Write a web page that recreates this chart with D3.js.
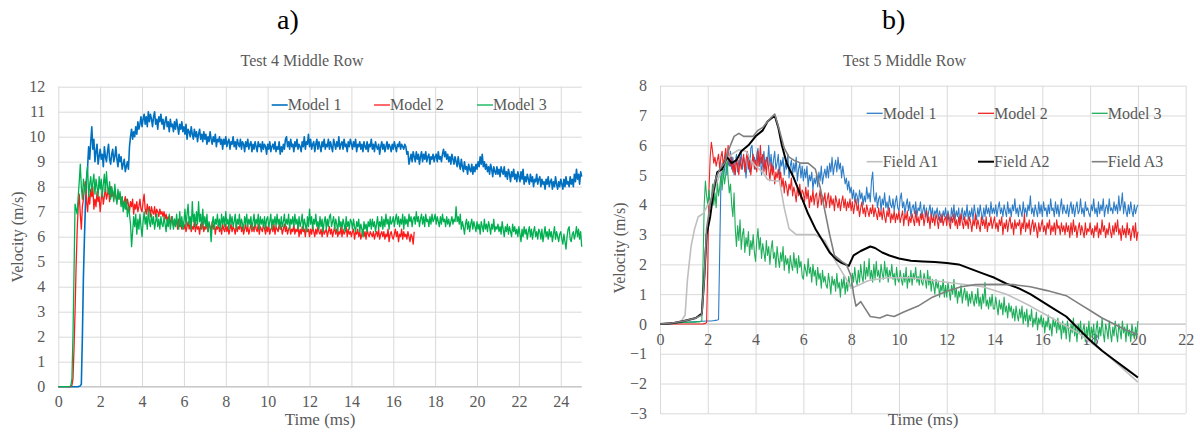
<!DOCTYPE html>
<html>
<head>
<meta charset="utf-8">
<script src="https://cdn.jsdelivr.net/npm/d3@7"></script>
<style>
  body { margin: 0; background: #fff; }
  svg { display: block; }
</style>
</head>
<body>
<svg id="chart" width="1200" height="434"></svg>
<script>
// model traces are sampled every 0.05 ms, one row per millisecond
const step = 0.05;

// ---- Test 4 (left) ----
const t4Model1 = [
  0,0,0,0,0,0,0,0,0,0,0,0,0,0,0,0,0,0,0,0,
  0.02,0.03,0.1,2.0,4.4,6.0,7.4,8.3,8.8,9.6,9.1,9.8,10.4,9.5,9.9,9.0,9.4,9.7,8.9,9.2,
  9.5,9.1,9.3,8.8,9.6,9.2,9.0,9.4,9.7,9.1,8.9,9.3,9.5,9.0,9.2,9.6,9.1,8.8,9.3,9.0,
  9.2,8.7,8.9,9.1,8.6,8.8,9.0,8.7,9.6,10.0,10.3,9.9,10.2,10.0,10.4,10.1,10.6,10.3,10.5,10.8,
  10.4,10.7,10.9,10.5,10.8,10.4,11.0,10.6,10.9,10.7,10.4,10.8,11.0,10.5,10.7,10.3,10.8,10.6,10.9,10.5,
  10.7,10.3,10.6,10.8,10.4,10.6,10.2,10.7,10.4,10.5,10.2,10.6,10.3,10.7,10.4,10.1,10.5,10.3,10.6,10.2,
  10.4,10.1,10.5,9.9,10.3,10.2,10.0,10.4,10.1,9.9,10.3,10.0,10.2,9.8,10.1,10.3,9.9,10.1,9.8,10.2,
  9.9,10.1,9.7,10.0,9.8,10.2,9.9,9.7,10.0,9.8,10.1,9.6,9.9,9.8,10.0,9.7,9.9,9.5,9.9,9.7,
  10.0,9.6,9.8,9.9,9.5,9.8,9.7,10.0,9.6,9.8,9.5,9.9,9.7,9.6,9.9,9.5,9.8,9.7,9.4,9.8,
  9.6,9.9,9.5,9.7,9.8,9.4,9.7,9.5,9.8,9.6,9.4,9.8,9.6,9.7,9.4,9.8,9.5,9.7,9.6,9.3,
  9.7,9.5,9.8,9.4,9.6,9.7,9.5,9.8,9.4,9.6,9.5,9.8,9.3,9.6,9.4,9.7,9.5,9.9,10.0,9.6,
  9.8,9.5,9.9,9.6,9.7,9.4,9.8,9.6,9.9,9.5,9.7,9.6,9.4,9.8,9.6,10.0,9.5,9.8,9.7,10.1,
  9.6,9.9,9.5,9.7,9.8,9.4,9.7,9.9,9.5,9.8,9.6,9.4,9.8,9.6,9.9,9.5,9.7,9.6,9.9,9.5,
  9.8,9.6,9.4,9.9,9.7,9.5,9.8,9.6,10.0,9.5,9.7,9.8,9.5,9.9,9.6,9.7,9.4,9.8,9.6,9.9,
  9.7,9.5,9.8,9.6,9.9,9.4,9.7,9.6,9.8,9.5,9.7,9.4,9.8,9.6,9.5,9.8,9.4,9.7,9.6,9.9,
  9.5,9.7,9.4,9.8,9.6,9.5,9.7,9.3,9.6,9.8,9.5,9.7,9.4,9.6,9.8,9.5,9.7,9.6,9.4,9.7,
  9.5,9.8,9.6,9.4,9.7,9.6,9.8,9.5,9.7,9.6,9.5,9.7,9.6,9.3,9.4,8.9,9.1,9.3,9.0,9.4,
  9.2,9.0,9.4,9.1,9.3,8.9,9.2,9.4,9.0,9.3,9.1,9.4,9.0,9.2,9.3,8.9,9.2,9.1,9.3,9.0,
  9.2,9.3,9.0,9.4,9.1,9.2,9.0,9.3,9.5,9.2,9.4,9.1,9.3,9.0,9.2,8.9,9.3,9.1,8.9,9.2,
  9.0,8.8,9.2,8.9,8.7,9.1,8.8,8.6,9.0,8.7,8.8,8.5,8.9,8.7,8.6,8.9,8.5,8.8,8.6,8.9,
  8.7,9.0,8.8,9.2,8.9,9.3,8.8,9.0,8.7,8.9,8.6,8.8,8.5,8.9,8.7,8.4,8.8,8.6,8.5,8.8,
  8.5,8.7,8.4,8.8,8.6,8.5,8.8,8.4,8.6,8.3,8.7,8.5,8.2,8.6,8.4,8.7,8.3,8.5,8.2,8.6,
  8.4,8.2,8.6,8.3,8.7,8.1,8.4,8.2,8.5,8.3,8.1,8.5,8.2,8.4,8.0,8.3,8.2,8.5,8.1,8.3,
  8.4,8.0,8.3,8.1,8.2,7.9,8.3,8.1,8.4,8.0,8.2,8.3,7.9,8.2,8.0,8.4,8.1,7.9,8.2,8.0,
  8.3,8.1,7.9,8.3,8.0,8.4,8.1,8.2,8.0,8.4,8.1,8.3,8.0,8.5,8.2,8.7,8.3,8.5,8.1,8.6,
  8.4
];

const t4Model2 = [
  0,0,0,0,0,0,0,0,0,0,0,0,0,0.05,0.3,1.5,3.0,4.8,6.2,7.2,
  7.7,6.9,6.3,7.2,7.5,8.0,8.2,7.4,7.0,7.7,7.3,7.9,7.6,8.0,7.1,7.5,7.2,7.8,7.4,7.6,
  7.0,7.5,7.8,7.3,7.6,8.0,7.5,7.7,7.9,7.4,8.0,7.6,7.8,7.5,7.9,7.6,7.4,7.8,7.5,7.7,
  7.3,7.6,7.2,7.4,7.6,7.1,7.5,7.3,7.0,7.4,7.2,7.5,6.9,7.3,7.1,7.4,7.0,7.2,7.5,7.1,
  7.0,7.4,7.7,7.1,6.9,7.3,7.0,7.2,6.8,7.2,7.0,6.9,7.2,6.8,7.1,7.0,6.8,7.1,6.9,7.0,
  6.8,7.0,6.7,6.9,6.6,6.8,6.7,6.5,6.8,6.6,6.4,6.7,6.5,6.6,6.3,6.7,6.4,6.5,6.3,6.6,
  6.3,6.5,6.2,6.4,6.6,6.3,6.5,6.2,6.4,6.3,6.6,6.2,6.5,6.3,6.4,6.1,6.5,6.3,6.6,6.2,
  6.4,6.3,6.6,6.2,6.5,6.4,6.2,6.6,6.3,6.5,6.1,6.4,6.3,6.5,6.2,6.4,6.1,6.5,6.3,6.2,
  6.5,6.2,6.4,6.1,6.3,6.5,6.2,6.4,6.3,6.1,6.5,6.2,6.4,6.3,6.6,6.2,6.4,6.1,6.3,6.5,
  6.2,6.4,6.1,6.3,6.5,6.2,6.4,6.2,6.6,6.3,6.2,6.5,6.1,6.4,6.3,6.2,6.5,6.3,6.1,6.4,
  6.2,6.5,6.1,6.3,6.4,6.2,6.5,6.1,6.4,6.3,6.2,6.5,6.3,6.4,6.1,6.3,6.5,6.2,6.4,6.1,
  6.3,6.4,6.1,6.3,6.2,6.5,6.1,6.3,6.2,6.4,6.0,6.3,6.1,6.4,6.2,6.3,6.0,6.4,6.2,6.3,
  6.0,6.3,6.1,6.4,6.2,6.0,6.3,6.1,6.4,6.2,6.1,6.3,6.0,6.4,6.1,6.2,6.3,6.0,6.2,6.4,
  6.1,6.3,6.0,6.2,6.4,6.1,6.3,6.0,6.2,6.1,6.4,6.0,6.3,6.1,6.2,6.4,6.0,6.3,6.1,6.2,
  6.0,6.2,6.3,5.9,6.2,6.1,6.3,6.0,6.2,5.9,6.1,6.3,6.0,6.2,5.9,6.3,6.1,6.0,6.2,6.1,
  6.0,6.2,5.9,6.1,6.2,6.0,6.3,5.9,6.1,6.2,6.0,6.2,5.9,6.1,6.0,6.3,5.8,6.1,6.2,6.0,
  5.9,6.1,6.3,6.0,6.2,5.8,6.1,6.0,6.3,5.9,6.2,6.0,6.1,5.9,6.2,6.0,5.8,6.1,6.0,5.7,
  6.2
];

const t4Model3 = [
  0,0,0,0,0,0,0,0,0,0,0,0,0.05,0.3,2.0,4.5,7.3,7.1,6.9,7.6,
  8.2,8.9,8.0,7.5,8.3,8.0,7.7,8.4,8.8,7.6,8.1,8.4,7.8,8.2,8.5,7.7,8.3,8.0,7.6,8.4,
  7.9,8.3,7.6,8.1,8.5,7.8,8.6,8.0,7.7,8.2,7.5,8.0,7.8,7.4,8.1,7.6,7.3,7.9,7.5,7.8,
  7.2,7.6,7.0,7.4,7.1,7.5,6.8,7.2,6.9,6.5,5.6,6.2,6.8,6.4,6.9,6.1,6.7,6.3,6.9,6.4,
  6.0,6.6,7.0,6.5,6.8,6.3,7.1,6.6,6.4,6.9,6.5,6.8,6.3,6.6,6.9,6.4,6.7,6.3,6.8,6.5,
  6.4,6.8,6.5,6.2,6.7,6.4,6.9,6.3,6.6,6.8,6.3,6.7,6.4,6.9,6.5,6.3,7.0,6.4,6.8,6.3,
  6.6,7.1,6.4,6.9,7.3,6.5,6.8,6.3,7.4,6.6,6.9,6.4,7.0,6.5,7.4,6.6,6.9,6.3,7.1,6.5,
  6.8,6.4,6.9,6.2,6.6,6.4,5.8,6.5,6.8,6.3,6.7,6.5,6.9,6.4,6.7,6.3,6.9,6.5,6.8,6.4,
  7.0,6.5,6.7,6.3,6.9,6.5,6.8,6.4,6.6,6.9,6.3,6.7,6.5,6.9,6.4,6.7,6.5,6.3,6.8,6.5,
  6.9,6.4,6.7,6.5,6.8,6.3,6.6,6.9,6.4,6.7,6.5,6.9,6.3,6.8,6.5,6.7,6.4,6.8,6.3,6.7,
  6.8,6.4,6.6,6.9,6.3,6.7,6.5,6.8,6.4,6.9,6.5,6.7,6.3,6.8,6.4,6.6,6.9,6.4,6.7,6.5,
  6.9,6.3,6.7,6.5,6.8,6.4,6.9,6.5,6.7,6.3,6.8,6.4,6.6,6.9,6.3,6.7,6.5,6.2,6.8,6.4,
  7.1,6.5,6.8,6.3,6.7,6.5,6.9,6.4,6.6,6.3,6.8,6.4,6.7,6.2,6.6,6.8,6.3,6.7,6.4,6.8,
  6.9,6.4,6.6,6.8,6.3,6.7,6.5,6.2,6.8,6.4,6.6,6.3,6.7,6.5,6.2,6.8,6.4,6.6,6.3,6.7,
  6.6,6.3,6.7,6.4,6.2,6.6,6.4,6.7,6.2,6.5,6.3,6.0,6.6,6.3,6.5,6.2,6.6,6.4,6.7,6.3,
  6.7,6.4,6.6,6.2,6.5,6.8,6.3,6.6,6.4,6.8,6.3,6.7,6.4,6.9,6.5,6.7,6.3,6.8,6.5,6.6,
  6.8,6.4,6.7,6.9,6.5,6.8,6.4,6.7,6.5,6.9,6.3,6.8,6.5,6.7,6.4,6.9,6.6,6.8,6.4,6.7,
  6.8,6.5,7.0,6.6,6.8,6.4,6.7,6.9,6.5,6.8,6.4,6.9,6.6,6.7,6.4,6.8,6.5,6.9,6.6,6.7,
  6.9,6.5,6.8,6.6,6.4,6.8,6.5,6.9,6.6,6.7,6.4,6.8,6.5,6.7,6.4,6.6,6.8,6.5,6.7,6.6,
  7.2,6.6,6.8,6.5,6.9,6.3,6.6,6.4,6.1,6.5,6.7,6.3,6.6,6.2,6.5,6.7,6.3,6.6,6.4,6.2,
  6.6,6.3,6.5,6.1,6.6,6.4,6.2,6.7,6.3,6.5,6.2,6.6,6.4,6.1,6.5,6.3,6.7,6.2,6.4,6.3,
  6.5,6.2,6.4,6.1,6.6,6.3,6.0,6.4,6.2,6.5,6.1,6.4,6.2,6.0,6.5,6.2,6.4,6.1,6.3,6.0,
  6.4,6.1,5.8,6.3,6.0,6.4,6.1,6.3,5.9,6.2,6.4,6.0,6.3,5.9,6.2,6.4,6.0,6.2,5.9,6.3,
  6.2,5.9,6.3,5.8,6.1,6.4,6.0,6.2,5.9,6.3,6.0,6.2,5.8,6.1,6.4,5.9,6.2,6.0,5.8,6.1,
  6.2,5.9,5.7,6.1,5.8,5.5,6.0,6.3,6.4,5.9,5.8,6.1,6.2,5.9,6.1,6.4,6.0,6.3,5.9,6.2,
  5.6
];

// ---- Test 5 (right) ----
const t5Model1 = [
  0,0,0,0,0,0,0,0,0.01,0.01,0.02,0.02,0.03,0.03,0.03,0.04,0.04,0.04,0.05,0.05,
  0.05,0.05,0.06,0.06,0.06,0.06,0.07,0.07,0.07,0.07,0.08,0.08,0.08,0.08,0.09,0.09,0.09,0.09,0.1,0.1,
  0.1,0.1,0.1,0.1,0.11,0.11,0.12,0.12,0.13,0.15,2.5,4.8,5.4,4.9,5.2,5.7,5.0,5.5,5.3,5.8,
  5.2,5.6,5.0,5.4,5.7,5.1,5.5,5.3,5.8,5.2,5.6,5.4,4.9,5.5,5.7,5.1,5.9,6.0,5.4,5.6,
  5.2,5.7,5.9,5.3,5.6,5.0,5.5,5.8,5.2,5.6,5.4,6.0,5.3,5.7,5.1,5.5,5.8,5.2,5.4,5.7,
  5.0,5.5,5.3,5.6,5.0,5.4,5.2,5.7,4.9,5.3,5.5,5.0,5.4,5.1,5.6,4.8,5.2,5.4,4.9,5.3,
  4.8,5.2,4.9,5.3,4.6,5.0,4.8,5.1,4.5,4.9,4.7,5.0,4.6,5.1,4.8,5.3,4.7,5.0,5.2,4.9,
  5.3,4.9,5.4,5.1,5.6,5.0,5.3,5.5,5.1,5.6,5.2,5.4,4.9,5.3,5.0,4.7,4.9,4.5,4.8,4.4,
  4.6,4.2,4.5,4.1,4.4,4.3,4.0,4.5,4.2,4.4,4.0,4.3,4.1,4.6,4.2,4.4,4.1,4.8,5.1,4.3,
  4.1,4.4,3.9,4.2,4.3,3.8,4.2,4.0,4.4,3.9,4.1,3.8,4.3,4.0,3.9,4.2,3.8,4.1,4.3,3.9,
  3.8,4.2,4.4,3.9,4.1,3.7,4.0,4.2,3.8,4.1,3.6,3.9,4.0,3.7,4.1,3.6,3.9,3.8,4.1,3.6,
  3.8,4.0,3.6,3.9,3.5,3.8,4.0,3.6,3.9,3.5,3.8,3.7,3.9,3.5,3.8,3.6,3.4,3.8,3.6,3.9,
  3.5,3.8,3.6,3.4,3.9,3.6,4.0,3.5,3.8,3.6,3.9,3.4,3.7,3.9,3.5,3.8,3.6,4.0,3.5,3.8,
  3.6,3.9,3.5,4.0,3.7,3.5,3.9,3.6,4.0,3.7,3.5,3.9,3.6,4.0,3.7,3.9,3.6,4.1,3.7,3.9,
  3.7,4.0,3.6,3.9,4.1,3.7,3.9,3.6,4.0,3.8,3.6,4.1,3.7,3.9,3.6,4.0,3.8,4.2,3.7,3.9,
  3.6,4.0,3.8,3.6,4.1,3.7,3.9,3.6,4.0,3.8,4.3,3.7,3.9,3.6,4.0,3.8,3.6,4.1,3.7,4.0,
  3.6,4.1,3.8,3.9,3.6,4.0,3.7,4.2,3.8,3.9,3.6,4.1,3.7,4.0,3.6,3.9,4.2,3.7,4.0,3.8,
  3.7,4.0,3.6,3.9,4.1,3.7,4.0,3.6,3.9,4.1,3.7,3.8,4.2,3.7,3.9,3.6,4.1,3.8,3.9,3.7,
  3.6,4.0,3.8,4.2,3.7,3.9,3.6,4.1,3.7,4.0,3.8,4.2,3.6,3.9,4.0,3.7,4.2,3.8,3.9,3.7,
  4.1,3.8,4.0,3.7,4.3,3.8,4.0,4.4,3.7,4.1,3.8,3.6,4.0,3.7,4.1,3.8,3.6,4.0,3.7,3.9,
  4.0
];

const t5Model2 = [
  0,0,0,0,0,0,0,0,0,0,0,0,0,0,0,0,0,0,0,0,
  0,0,0,0,0,0,0,0,0,0,0,0,0,0,0,0,0,0.01,0.02,0.05,
  2.0,4.5,5.6,6.1,5.8,5.4,5.6,5.3,5.5,5.7,5.2,5.6,5.8,5.3,5.6,5.9,5.4,6.0,5.5,5.3,
  5.6,5.1,5.4,5.0,5.5,5.3,5.0,5.6,5.2,5.4,5.7,5.1,5.5,5.8,5.2,5.5,5.0,5.4,5.7,5.2,
  5.5,5.1,5.8,5.3,6.0,5.4,5.7,5.1,5.5,5.0,5.6,5.2,4.8,5.4,5.0,5.3,4.7,5.1,4.9,5.2,
  4.8,5.1,4.6,4.9,4.4,4.8,4.6,4.3,4.7,4.5,4.9,4.3,4.6,4.4,4.1,4.6,4.3,4.7,4.2,4.5,
  4.4,4.1,4.6,4.2,4.5,3.9,4.3,4.1,4.5,4.0,4.3,4.4,3.9,4.2,4.5,4.0,4.3,4.1,4.4,3.9,
  4.2,4.4,3.9,4.3,4.0,4.2,3.8,4.3,4.1,3.9,4.2,3.8,4.1,4.3,3.9,4.2,3.8,4.1,3.9,4.2,
  3.8,4.1,3.7,4.0,4.2,3.8,4.0,3.6,3.9,4.1,3.7,3.9,3.6,4.0,3.8,3.6,3.9,3.7,4.0,3.6,
  3.9,3.7,3.5,3.9,3.6,3.8,3.5,3.9,3.6,3.4,3.8,3.6,3.9,3.4,3.7,3.5,3.8,3.4,3.7,3.5,
  3.8,3.4,3.6,3.8,3.3,3.7,3.5,3.8,3.3,3.6,3.4,3.7,3.5,3.3,3.8,3.4,3.6,3.3,3.7,3.5,
  3.7,3.3,3.6,3.8,3.4,3.6,3.2,3.7,3.4,3.6,3.3,3.7,3.5,3.2,3.6,3.4,3.7,3.3,3.5,3.6,
  3.3,3.7,3.4,3.2,3.6,3.4,3.7,3.3,3.5,3.2,3.6,3.3,3.7,3.4,3.2,3.6,3.3,3.5,3.2,3.6,
  3.4,3.1,3.5,3.3,3.7,3.2,3.5,3.3,3.1,3.6,3.3,3.5,3.2,3.6,3.1,3.4,3.3,3.6,3.2,3.4,
  3.6,3.2,3.4,3.1,3.5,3.3,3.6,3.0,3.4,3.2,3.5,3.1,3.4,3.6,3.2,3.4,3.0,3.5,3.2,3.4,
  3.3,3.5,3.0,3.4,3.2,3.7,3.1,3.4,3.2,3.5,3.0,3.3,3.5,3.1,3.4,3.2,2.9,3.4,3.1,3.3,
  3.5,3.1,3.3,3.0,3.4,3.2,3.5,3.0,3.3,3.1,3.4,3.0,3.5,3.2,3.3,3.0,3.4,3.1,3.3,3.0,
  3.4,3.1,3.3,2.9,3.4,3.0,3.5,3.1,3.3,2.9,3.2,3.4,3.0,3.3,3.1,2.9,3.4,3.0,3.2,3.1,
  3.4,3.0,3.2,2.9,3.3,3.1,3.4,2.9,3.2,3.0,3.5,3.1,3.3,2.9,3.2,3.0,3.4,3.1,2.9,3.3,
  3.0,3.4,3.1,3.5,3.0,3.2,2.8,3.3,3.0,3.2,2.9,3.4,3.0,3.2,2.8,3.1,3.3,2.9,3.4,2.8,
  3.1
];

const t5Model3 = [
  0,0,0,0,0,0,0.01,0.01,0.02,0.02,0.02,0.03,0.03,0.03,0.04,0.04,0.04,0.04,0.05,0.05,
  0.05,0.05,0.05,0.05,0.06,0.06,0.06,0.06,0.06,0.06,0.06,0.07,0.07,0.07,0.08,0.1,2.0,4.0,4.8,4.3,
  4.0,4.5,3.9,4.2,4.7,4.0,4.4,3.9,4.8,4.3,4.6,5.0,4.5,5.2,4.7,5.0,5.7,4.9,4.4,4.7,
  4.0,3.6,4.4,3.2,2.6,3.3,2.8,3.5,2.5,3.0,3.2,2.4,2.9,2.6,3.1,2.3,2.8,2.5,3.0,2.4,
  2.1,2.8,3.2,2.5,2.9,2.2,2.7,2.4,2.1,2.8,2.3,2.6,2.0,2.5,2.8,2.2,2.4,1.9,2.6,2.2,
  1.9,2.4,2.1,2.6,1.8,2.3,2.0,2.2,1.7,2.3,2.0,1.8,2.4,1.9,2.2,1.7,2.3,1.9,2.1,1.6,
  1.5,2.0,1.8,1.6,2.2,1.7,1.9,1.4,2.0,1.6,1.8,1.3,1.9,1.5,1.7,1.2,1.8,1.4,1.6,1.3,
  1.2,1.7,1.4,1.0,1.6,1.3,1.5,1.1,1.7,1.2,1.4,0.9,1.5,1.2,1.6,1.0,1.4,1.1,1.6,1.3,
  1.2,1.7,1.4,1.9,1.5,1.3,1.8,1.4,2.0,1.6,1.4,2.1,1.5,1.9,1.6,2.2,1.5,1.8,1.4,2.0,
  1.5,2.1,1.6,1.8,1.4,2.0,1.7,1.5,2.1,1.6,1.9,1.4,1.8,1.6,2.0,1.5,1.7,1.3,1.9,1.5,
  1.4,1.8,1.5,1.3,1.7,1.4,1.9,1.2,1.6,1.4,1.8,1.3,1.7,1.5,1.9,1.4,1.6,1.3,1.8,1.4,
  1.3,1.7,1.5,1.2,1.8,1.3,1.6,1.1,1.5,1.3,1.0,1.5,1.2,1.4,0.9,1.3,1.1,1.5,0.9,1.3,
  0.9,1.4,1.1,0.8,1.3,1.0,1.5,0.9,1.2,0.7,1.1,0.9,1.3,0.7,1.0,1.2,0.8,1.1,0.6,1.0,
  0.7,1.1,0.8,0.6,1.0,0.7,1.2,0.6,0.9,0.5,1.0,0.7,1.4,0.6,0.8,0.5,0.9,0.6,1.0,0.5,
  0.5,0.9,0.6,0.3,0.8,0.5,0.7,0.3,0.9,0.4,0.6,0.2,0.7,0.4,0.6,0.2,0.5,0.1,0.6,0.3,
  0.1,0.5,0.2,0.6,0.0,0.4,0.1,0.5,-0.1,0.3,0.1,0.5,-0.1,0.2,0.0,0.4,-0.2,0.2,0.0,0.3,
  -0.1,0.2,-0.3,0.1,-0.1,0.3,-0.2,0.0,-0.4,0.2,-0.1,0.1,-0.3,0.2,-0.2,0.0,-0.5,0.1,-0.3,0.0,
  -0.5,0.1,-0.2,-0.6,0.0,-0.3,0.2,-0.4,-0.1,-0.6,0.0,-0.3,0.1,-0.5,-0.2,0.0,-0.6,-0.1,-0.4,0.1,
  -0.6,-0.1,-0.4,0.0,-0.7,-0.2,0.1,-0.5,-0.1,-0.4,0.2,-0.3,-0.6,0.0,-0.2,-0.5,0.1,-0.3,-0.6,-0.1,
  -0.4,0.1,-0.3,-0.6,0.0,-0.2,-0.5,0.1,-0.3,-0.1,-0.6,0.0,-0.4,-0.2,-0.6,0.0,-0.3,-0.5,-0.1,-0.4,
  0.1
];

// field records: [time ms, velocity m/s]
const t5FieldA1 = [
  [0,0],[0.5,0.02],[0.9,0.1],[1.05,0.3],[1.15,1.5],[1.3,2.6],[1.45,3.2],[1.6,3.6],
  [1.8,3.7],[2.0,4.0],[2.2,4.3],[2.4,4.8],[2.6,5.2],[2.8,5.5],[3.0,5.7],[3.3,5.85],
  [3.6,5.8],[3.8,5.5],[4.0,5.3],[4.3,5.1],[4.5,4.85],[4.8,4.8],[5.0,4.8],[5.2,3.9],
  [5.4,3.2],[5.7,3.0],[6.0,3.0],[6.5,3.0],[6.9,2.8],[7.2,2.3],[7.5,1.9],[7.8,1.5],
  [8.0,1.2],[8.3,1.3],[8.7,1.45],[9.5,1.55],[10.5,1.55],[11.5,1.45],[12.5,1.35],
  [13.5,1.25],[14.5,1.0],[15.5,0.6],[16.5,0.15],[17.5,-0.3],[18.5,-0.9],[19.3,-1.45],[20,-1.95]
];
const t5FieldA2 = [
  [0,0],[0.5,0.02],[1.0,0.1],[1.5,0.2],[1.75,0.35],[1.85,1.5],[1.95,3.0],[2.1,3.6],
  [2.25,4.5],[2.4,5.1],[2.6,5.2],[2.8,5.6],[3.0,5.4],[3.2,5.5],[3.4,5.8],[3.7,6.0],
  [4.0,6.3],[4.3,6.5],[4.5,6.8],[4.8,7.0],[4.95,6.6],[5.1,6.0],[5.3,5.4],[5.6,4.9],
  [5.9,4.3],[6.2,3.7],[6.5,3.2],[6.8,2.8],[7.1,2.4],[7.4,2.15],[7.6,2.05],[7.9,1.95],
  [8.1,2.3],[8.4,2.45],[8.8,2.6],[9.0,2.55],[9.3,2.4],[9.6,2.3],[10.0,2.2],[10.5,2.12],
  [11.0,2.1],[11.5,2.08],[12.0,2.05],[12.5,2.0],[13.0,1.85],[13.5,1.7],[14.0,1.55],
  [14.5,1.35],[15.0,1.2],[15.5,1.0],[16.0,0.75],[16.5,0.5],[17.0,0.25],[17.5,-0.15],
  [18.0,-0.55],[18.5,-0.9],[19.0,-1.2],[19.5,-1.5],[20.0,-1.8]
];
const t5FieldA3 = [
  [0,0],[0.5,0.03],[1.0,0.1],[1.5,0.2],[1.75,0.3],[1.85,1.5],[1.95,3.2],[2.1,4.0],
  [2.3,4.8],[2.5,5.2],[2.7,5.4],[2.9,5.9],[3.1,6.3],[3.3,6.4],[3.5,6.3],[3.7,6.3],
  [3.9,6.3],[4.1,6.5],[4.3,6.6],[4.5,6.8],[4.8,7.05],[5.0,6.5],[5.2,5.9],[5.4,5.6],
  [5.6,5.5],[5.9,5.4],[6.2,5.4],[6.5,5.2],[6.7,4.6],[6.9,3.8],[7.1,3.0],[7.3,2.3],
  [7.6,2.1],[7.8,2.0],[8.0,1.6],[8.1,1.0],[8.2,0.6],[8.4,0.75],[8.6,0.5],[8.8,0.25],
  [9.2,0.2],[9.5,0.3],[9.8,0.25],[10.2,0.4],[10.8,0.6],[11.4,0.9],[12.0,1.1],[12.6,1.25],
  [13.2,1.32],[14.0,1.33],[14.8,1.32],[15.5,1.25],[16.2,1.12],[17.0,0.95],[17.5,0.7],
  [18.0,0.45],[18.5,0.2],[19.0,0.0],[19.5,-0.2],[20.0,-0.35]
];

// ---- axis ticks ----
const t4XTicks = d3.range(0, 25, 2);
const t4YTicks = d3.range(0, 13, 1);
const t5XTicks = d3.range(0, 23, 2);
const t5YTicks = d3.range(-3, 9, 1);

const FONT = "Liberation Serif, Times New Roman, serif";
const TEXT = "#595959";
const GRID = "#d9d9d9";

const svg = d3.select("#chart");

function drawPanel(cfg) {
  const x = d3.scaleLinear().domain(cfg.xDomain).range([cfg.left, cfg.right]);
  const y = d3.scaleLinear().domain(cfg.yDomain).range([cfg.bottom, cfg.top]);
  const g = svg.append("g");

  // vertical gridlines
  g.append("g")
    .attr("transform", `translate(0,${cfg.bottom})`)
    .call(d3.axisBottom(x).tickValues(cfg.xGrid).tickSize(-(cfg.bottom - cfg.top)).tickFormat(""))
    .call(a => a.select(".domain").remove())
    .call(a => a.selectAll("line").attr("stroke", GRID));

  // horizontal gridlines + y labels
  g.append("g")
    .attr("transform", `translate(${cfg.left},0)`)
    .call(d3.axisLeft(y).tickValues(cfg.yTicks).tickSize(-(cfg.right - cfg.left)).tickPadding(13).tickFormat(d3.format("d")))
    .call(a => a.select(".domain").remove())
    .call(a => a.selectAll("line").attr("stroke", GRID))
    .attr("font-family", null)
    .attr("font-size", null)
    .call(a => a.selectAll("text")
      .style("font-family", FONT).style("font-size", "16px").attr("fill", TEXT));

  // zero line
  g.append("line")
    .attr("x1", cfg.left).attr("x2", cfg.right)
    .attr("y1", y(0)).attr("y2", y(0))
    .attr("stroke", "#bfbfbf");

  // x labels along the zero line
  g.append("g")
    .attr("transform", `translate(0,${y(0)})`)
    .call(d3.axisBottom(x).tickValues(cfg.xTicks).tickSize(0).tickPadding(cfg.xPad))
    .call(a => a.select(".domain").remove())
    .attr("font-family", null)
    .attr("font-size", null)
    .call(a => a.selectAll("text")
      .style("font-family", FONT).style("font-size", "16px").attr("fill", TEXT));

  // series
  const sampled = d3.line().x((d, i) => x(i * step)).y(d => y(d));
  const paired = d3.line().x(d => x(d[0])).y(d => y(d[1]));
  cfg.series.forEach(s => {
    g.append("path")
      .datum(s.values)
      .attr("fill", "none")
      .attr("stroke", s.color)
      .attr("stroke-width", s.width)
      .attr("stroke-linejoin", "round")
      .attr("d", s.paired ? paired : sampled);
  });

  // legend
  cfg.series.forEach((s, i) => {
    const [lx, ly] = cfg.legendPos[i];
    g.append("line")
      .attr("x1", lx).attr("x2", lx + 16)
      .attr("y1", ly).attr("y2", ly)
      .attr("stroke", s.color)
      .attr("stroke-width", Math.max(s.width, 1.3));
    g.append("text")
      .attr("x", lx + 16).attr("y", ly).attr("dy", "0.33em")
      .style("font-family", FONT).style("font-size", "16px").attr("fill", TEXT)
      .text(s.name);
  });

  // chart title
  g.append("text")
    .attr("x", cfg.titleX).attr("y", 66)
    .attr("text-anchor", "middle")
    .style("font-family", FONT).style("font-size", "16px").attr("fill", TEXT)
    .text(cfg.title);

  // panel letter
  svg.append("text")
    .attr("x", cfg.letterX).attr("y", 29)
    .style("font-family", FONT).style("font-size", "28px").attr("fill", "#000")
    .text(cfg.letter);

  // axis titles
  g.append("text")
    .attr("x", cfg.xTitleX).attr("y", 425)
    .attr("text-anchor", "middle")
    .style("font-family", FONT).style("font-size", "17px").attr("fill", TEXT)
    .text("Time (ms)");
  g.append("text")
    .attr("transform", `translate(${cfg.yTitleX},${cfg.yTitleY}) rotate(-90)`)
    .attr("text-anchor", "middle")
    .attr("dy", "0.33em")
    .style("font-family", FONT).style("font-size", "16px").attr("fill", TEXT)
    .text("Velocity (m/s)");
}

drawPanel({
  letter: "a)", letterX: 277,
  title: "Test 4 Middle Row", titleX: 302,
  left: 58.3, right: 581.7, top: 86.7, bottom: 386.7,
  xDomain: [0, 25], yDomain: [0, 12],
  xTicks: t4XTicks, xGrid: t4XTicks, yTicks: t4YTicks, xPad: 9,
  xTitleX: 320, yTitleX: 18, yTitleY: 237,
  series: [
    { name: "Model 1", color: "#0070c0", width: 1.6, values: t4Model1 },
    { name: "Model 2", color: "#ff1a1a", width: 1.3, values: t4Model2 },
    { name: "Model 3", color: "#00b050", width: 1.3, values: t4Model3 }
  ],
  legendPos: [[271.7, 105], [374, 105], [477, 105]]
});

drawPanel({
  letter: "b)", letterX: 882,
  title: "Test 5 Middle Row", titleX: 904.5,
  left: 660, right: 1185.7, top: 85.7, bottom: 413.3,
  xDomain: [0, 22], yDomain: [-3, 8],
  xTicks: t5XTicks, xGrid: t5XTicks, yTicks: t5YTicks, xPad: 10,
  xTitleX: 923, yTitleX: 620, yTitleY: 248,
  series: [
    { name: "Model 1", color: "#2e7dc6", width: 1.1, values: t5Model1 },
    { name: "Model 2", color: "#ee2222", width: 1.1, values: t5Model2 },
    { name: "Model 3", color: "#1fae5a", width: 1.1, values: t5Model3 },
    { name: "Field A1", color: "#bfbfbf", width: 1.6, values: t5FieldA1, paired: true },
    { name: "Field A2", color: "#000000", width: 2, values: t5FieldA2, paired: true },
    { name: "Field A3", color: "#7f7f7f", width: 1.6, values: t5FieldA3, paired: true }
  ],
  legendPos: [[866.7, 113.3], [978, 113.3], [1091.7, 113.3],
              [866.7, 161.7], [978, 161.7], [1091.7, 161.7]]
});
</script>
</body>
</html>
